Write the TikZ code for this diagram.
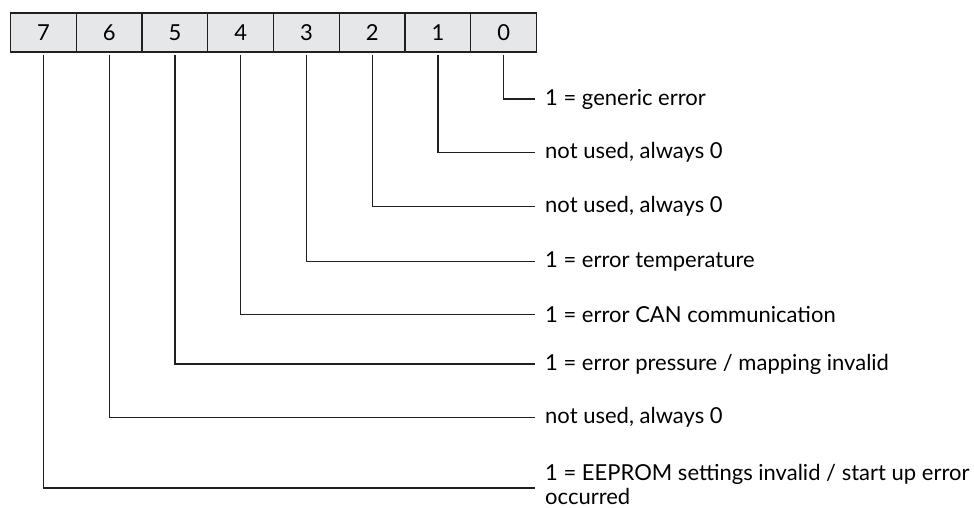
\documentclass[tikz,border=0pt]{standalone}
\usepackage{fontspec}
\setmainfont{Lato}
\usepackage{tikz}
\definecolor{cellgray}{HTML}{E6E7E8}
\definecolor{linegray}{HTML}{231F20}
\tikzset{
  bitcell/.style={draw=linegray, fill=cellgray, line width=1.1pt, minimum width=65.75pt, minimum height=39pt, inner sep=0pt, font=\fontsize{22}{24}\selectfont},
  bitlabel/.style={anchor=west, inner xsep=10pt, inner ysep=0pt, align=left, font=\fontsize{22}{24}\selectfont},
  bitline/.style={line width=1.2pt, linegray, shorten <=2pt}
}

\begin{document}
\begin{tikzpicture}[x=1pt, y=-1pt]
\useasboundingbox (0,0) rectangle (974,508);
\foreach \b in {0,...,7}
  \node[bitcell] (b\b) at ({43.4+65.75*(7-\b)}, 32.5) {\b};
\node[bitlabel] (l0) at (535,99) {1 = generic error};
\node[bitlabel] (l1) at (535,152.7) {not used, always 0};
\node[bitlabel] (l2) at (535,206.2) {not used, always 0};
\node[bitlabel] (l3) at (535,261.7) {1 = error temperature};
\node[bitlabel] (l4) at (535,314.5) {1 = error CAN communication};
\node[bitlabel] (l5) at (535,364) {1 = error pressure / mapping invalid};
\node[bitlabel] (l6) at (535,417.7) {not used, always 0};
\node[bitlabel] (l7) at (535,484.5) {1 = EEPROM settings invalid / start up error\\occurred};
\foreach \b in {0,...,6}
  \draw[bitline] (b\b.south) |- (l\b.west);
\draw[bitline] (b7.south) |- ([yshift=-3.5pt]l7.west);
\end{tikzpicture}
\end{document}
